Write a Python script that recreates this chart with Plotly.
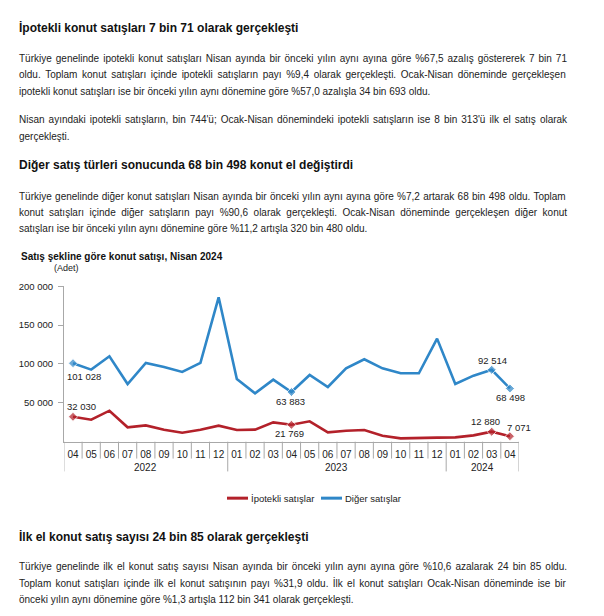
import plotly.graph_objects as go

W, H = 604, 616

# ---------------- data ----------------
years = ["2022"] * 9 + ["2023"] * 12 + ["2024"] * 4
months = ["04", "05", "06", "07", "08", "09", "10", "11", "12",
          "01", "02", "03", "04", "05", "06", "07", "08", "09", "10", "11", "12",
          "01", "02", "03", "04"]
ipotekli = [32030, 28300, 39900, 18500, 21000, 15500, 11600, 15500, 20600,
            15000, 15500, 24900, 21769, 26200, 12000, 14200, 15000, 7700, 4300,
            4300, 5200, 5600, 8200, 12880, 7071]
diger = [101028, 92700, 109900, 74200, 101300, 96100, 89700, 101300, 185800,
         80700, 62200, 79800, 63883, 85800, 70400, 94400, 106000, 94400, 88000,
         88000, 132600, 74200, 85000, 92514, 68498]
labeled_idx = [0, 12, 23, 24]
y_tickvals = [50000, 100000, 150000, 200000]
y_ticktext = ["50 000", "100 000", "150 000", "200 000"]
series_names = ["İpotekli satışlar", "Diğer satışlar"]
chart_title = "Satış şekline göre konut satışı, Nisan 2024"
unit_label = "(Adet)"

heading1 = "İpotekli konut satışları 7 bin 71 olarak gerçekleşti"
para1 = ["Türkiye genelinde ipotekli konut satışları Nisan ayında bir önceki yılın aynı ayına göre %67,5 azalış göstererek 7 bin 71",
         "oldu. Toplam konut satışları içinde ipotekli satışların payı %9,4 olarak gerçekleşti. Ocak-Nisan döneminde gerçekleşen",
         "ipotekli konut satışları ise bir önceki yılın aynı dönemine göre %57,0 azalışla 34 bin 693 oldu."]
para2 = ["Nisan ayındaki ipotekli satışların, bin 744'ü; Ocak-Nisan dönemindeki ipotekli satışların ise 8 bin 313'ü ilk el satış olarak",
         "gerçekleşti."]
heading2 = "Diğer satış türleri sonucunda 68 bin 498 konut el değiştirdi"
para3 = ["Türkiye genelinde diğer konut satışları Nisan ayında bir önceki yılın aynı ayına göre %7,2 artarak 68 bin 498 oldu. Toplam",
         "konut satışları içinde diğer satışların payı %90,6 olarak gerçekleşti. Ocak-Nisan döneminde gerçekleşen diğer konut",
         "satışları ise bir önceki yılın aynı dönemine göre %11,2 artışla 320 bin 480 oldu."]
heading3 = "İlk el konut satış sayısı 24 bin 85 olarak gerçekleşti"
para4 = ["Türkiye genelinde ilk el konut satış sayısı Nisan ayında bir önceki yılın aynı ayına göre %10,6 azalarak 24 bin 85 oldu.",
         "Toplam konut satışları içinde ilk el konut satışının payı %31,9 oldu. İlk el konut satışları Ocak-Nisan döneminde ise bir",
         "önceki yılın aynı dönemine göre %1,3 artışla 112 bin 341 olarak gerçekleşti."]

# ---------------- style ----------------
FONT = "Arial, Liberation Sans, sans-serif"
RED = "#b3212a"
BLUE = "#2f87c8"
AXIS = "#a8a8a8"
TXT = "#222222"

# Arial / Liberation Sans advance widths (1/1000 em), used only to justify paragraph lines
_AW = {" ": 278, "%": 889, "'": 191, ",": 278, "-": 333, ".": 278, ";": 278, ":": 278,
       "A": 667, "B": 667, "C": 722, "D": 722, "E": 667, "F": 611, "G": 778, "H": 722, "I": 278,
       "J": 500, "K": 667, "L": 556, "M": 833, "N": 722, "O": 778, "P": 667, "Q": 778, "R": 722,
       "S": 667, "T": 611, "U": 722, "V": 667, "W": 944, "X": 667, "Y": 667, "Z": 611,
       "a": 556, "b": 556, "c": 500, "d": 556, "e": 556, "f": 278, "g": 556, "h": 556, "i": 222,
       "j": 222, "k": 500, "l": 222, "m": 833, "n": 556, "o": 556, "p": 556, "q": 556, "r": 333,
       "s": 500, "t": 278, "u": 556, "v": 500, "w": 722, "x": 500, "y": 500, "z": 500,
       "ı": 278, "ş": 500, "ğ": 556, "ç": 500, "ö": 556, "ü": 556, "İ": 278, "Ö": 778,
       "Ç": 722, "Ş": 667, "Ü": 722, "Ğ": 778}
for _d in "0123456789":
    _AW[_d] = 556


def text_width(s, size):
    return sum(_AW.get(c, 556) for c in s) * size / 1000.0


def fx(px):
    return px / W


def fy(py):
    return 1 - py / H


cats = [f"{y}-{m}" for y, m in zip(years, months)]
n = len(cats)

fig = go.Figure()
for vals, color, name in [(ipotekli, RED, series_names[0]), (diger, BLUE, series_names[1])]:
    sizes = [7 if i in labeled_idx else 0 for i in range(n)]
    fig.add_trace(go.Scatter(
        x=cats, y=vals, name=name, mode="lines+markers",
        line=dict(color=color, width=2.6),
        marker=dict(symbol="diamond", size=sizes, color=color),
        showlegend=False, hoverinfo="skip"))

fmt = lambda v: f"{v:,}".replace(",", " ")
# data labels: (series, index, xshift, yshift)
label_specs = [
    (diger, 0, 11, -13), (ipotekli, 0, 8, 10),
    (diger, 12, -1, -9), (ipotekli, 12, -2, -9),
    (diger, 23, 1, 9), (ipotekli, 23, -6, 10),
    (diger, 24, 1, -9), (ipotekli, 24, 9, 9),
]
annotations = []
for ser, i, xs, ys in label_specs:
    annotations.append(dict(x=cats[i], y=ser[i], xref="x", yref="y", text=fmt(ser[i]),
                            showarrow=False, xshift=xs, yshift=ys,
                            font=dict(family=FONT, size=9.5, color=TXT)))

# year group labels and separators
shapes = []
y_axis_px, y_month_px, y_year_px = 440, 457, 470
groups = []
for i, y in enumerate(years):
    if not groups or groups[-1][0] != y:
        groups.append([y, i, i])
    else:
        groups[-1][2] = i
for y, a, b in groups:
    annotations.append(dict(x=(a + b) / 2, y=fy(466), xref="x", yref="paper", text=y,
                            showarrow=False, yanchor="middle",
                            font=dict(family=FONT, size=10, color=TXT)))
    shapes.append(dict(type="line", xref="x", yref="paper", x0=a - 0.5, x1=a - 0.5,
                       y0=fy(y_axis_px), y1=fy(y_year_px), line=dict(color=AXIS, width=1)))
shapes.append(dict(type="line", xref="x", yref="paper", x0=n - 0.5, x1=n - 0.5,
                   y0=fy(y_axis_px), y1=fy(y_year_px), line=dict(color=AXIS, width=1)))
starts = {a for _, a, _ in groups}
for i in range(1, n):
    if i not in starts:
        shapes.append(dict(type="line", xref="x", yref="paper", x0=i - 0.5, x1=i - 0.5,
                           y0=fy(y_axis_px), y1=fy(y_month_px), line=dict(color=AXIS, width=1)))

# legend (manual)
leg_y = 497
for (x0, x1, tx), color, name in [((227, 248, 249), RED, series_names[0]),
                                   ((321, 342, 343), BLUE, series_names[1])]:
    shapes.append(dict(type="line", xref="paper", yref="paper", x0=fx(x0), x1=fx(x1),
                       y0=fy(leg_y), y1=fy(leg_y), line=dict(color=color, width=3)))
    annotations.append(dict(x=fx(tx), y=fy(leg_y), xref="paper", yref="paper", text=name,
                            xanchor="left", yanchor="middle", showarrow=False,
                            font=dict(family=FONT, size=9.5, color=TXT)))

# chart title / unit
annotations.append(dict(x=fx(19), y=fy(253), xref="paper", yref="paper", text=f"<b>{chart_title}</b>",
                        xanchor="left", yanchor="middle", showarrow=False,
                        font=dict(family=FONT, size=10, color="#111")))
annotations.append(dict(x=fx(52), y=fy(265), xref="paper", yref="paper", text=unit_label,
                        xanchor="left", yanchor="middle", showarrow=False,
                        font=dict(family=FONT, size=9, color=TXT)))

TEXT_LEFT, TEXT_RIGHT = 20, 568


def add_line(text, ypx, size, bold=False, justify=False):
    shown = f"<b>{text}</b>" if bold else text
    if justify:
        spaces = text.count(" ")
        extra = (TEXT_RIGHT - TEXT_LEFT - text_width(text, size)) / max(spaces, 1)
        if extra > 0:
            shown = f'<span style="word-spacing:{extra:.2f}px">{text}</span>'
    annotations.append(dict(x=fx(TEXT_LEFT - 3), y=fy(ypx), xref="paper", yref="paper",
                            text=shown, xanchor="left", yanchor="middle", showarrow=False,
                            font=dict(family=FONT, size=size, color="#111" if bold else TXT)))


def add_para(lines, y0, size=10, step=16.5):
    for k, t in enumerate(lines):
        add_line(t, y0 + k * step, size, justify=(k < len(lines) - 1))


add_line(heading1, 22, 12, True)
add_para(para1, 53)
add_para(para2, 115)
add_line(heading2, 161, 12, True)
add_para(para3, 192)
add_line(heading3, 536, 12, True)
add_para(para4, 566)

fig.update_layout(
    width=W, height=H, margin=dict(l=0, r=0, t=0, b=0),
    paper_bgcolor="white", plot_bgcolor="white",
    annotations=annotations, shapes=shapes,
    xaxis=dict(type="category", domain=[fx(63.9), fx(519)], range=[-0.5, n - 0.5],
               tickvals=cats, ticktext=months, showline=True, linecolor=AXIS, linewidth=1,
               ticks="outside", ticklen=3, tickcolor="rgba(0,0,0,0)",
               showgrid=False, zeroline=False, fixedrange=True,
               tickfont=dict(family=FONT, size=10, color=TXT)),
    yaxis=dict(domain=[fy(440), fy(283)], range=[0, 200000], tickvals=y_tickvals, ticktext=y_ticktext,
               showline=True, linecolor=AXIS, linewidth=1, ticks="outside", ticklen=5, tickcolor=AXIS,
               ticklabelstandoff=3,
               showgrid=False, zeroline=False, fixedrange=True,
               tickfont=dict(family=FONT, size=9.5, color=TXT)),
)

fig.write_html("out.html", config={"displayModeBar": False},
               post_script="document.body.style.margin='0';document.body.style.overflow='hidden';")
